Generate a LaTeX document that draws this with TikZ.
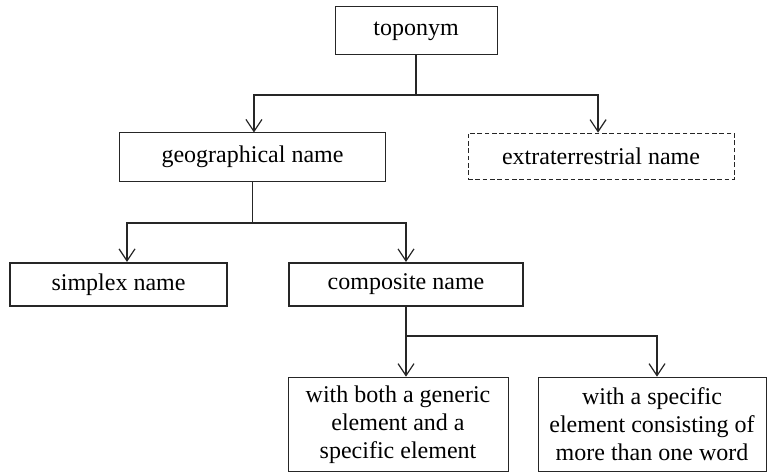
\documentclass[tikz,border=0pt]{standalone}
\usepackage{fontspec}
\setmainfont{Liberation Serif}
\usetikzlibrary{arrows.meta}

\tikzset{every picture/.style={line width=0.75pt}}

\begin{document}
\begin{tikzpicture}[x=0.75pt,y=0.75pt,yscale=-1,xscale=1,
    namebox/.style={draw=black!85, line width=0.75pt, inner sep=0pt, align=center, font=\fontsize{18}{21}\selectfont},
    mainbox/.style={namebox, line width=1.6pt},
    otherbox/.style={namebox, dash pattern=on 3.5pt off 2pt},
    link/.style={draw=black!85, line width=1.1pt},
    arrowlink/.style={link, -{Straight Barb[length=9pt,width=12pt,line width=0.9pt]}}]
%set diagram left start at 0, and has height of 474
\useasboundingbox (0,0) rectangle (774,474);

% Text Node
        \node [namebox, minimum width=121.5pt, minimum height=36pt] (topo) at (416,31) {toponym};
% Text Node
        \node [namebox, minimum width=200pt, minimum height=36pt] (geo) at (252.5,157) {geographical name};
% Text Node
        \node [otherbox, minimum width=199.5pt, minimum height=35pt] (extra) at (601,156.5) {extraterrestrial name};
% Text Node
        \node [mainbox, minimum width=162.75pt, minimum height=32.25pt] (simplex) at (118.5,284.5) {simplex name};
% Text Node
        \node [mainbox, minimum width=175.5pt, minimum height=32.25pt] (comp) at (406,284.5) {composite name};
% Text Node
        \node [namebox, minimum width=165pt, minimum height=71pt] (both) at (398,424.5) {with both a generic\\element and a\\specific element};
% Text Node
        \node [namebox, minimum width=171pt, minimum height=71pt] (multi) at (652,424.5) {with a specific\\element consisting of\\more than one word};

% Joints
        \coordinate (topojoint) at (416,95);
        \coordinate (geojoint) at (252.5,223);
        \coordinate (compjoint) at (406,336);

% Connection
        \draw [link] (topo) -- (topojoint);
        \draw [arrowlink] (topojoint) -| ([xshift=1.1pt]geo.north);
        \draw [arrowlink] (topojoint) -| ([xshift=-2.2pt]extra.north);
% Connection
        \draw [link] (geo) -- (geojoint);
        \draw [arrowlink] (geojoint) -| ([xshift=6.4pt]simplex.north);
        \draw [arrowlink] (geojoint) -| (comp.north);
% Connection
        \draw [arrowlink] (comp.south) -- (comp.south |- both.north);
        \draw [arrowlink] (compjoint) -| ([xshift=3.75pt]multi.north);

\end{tikzpicture}
\end{document}
